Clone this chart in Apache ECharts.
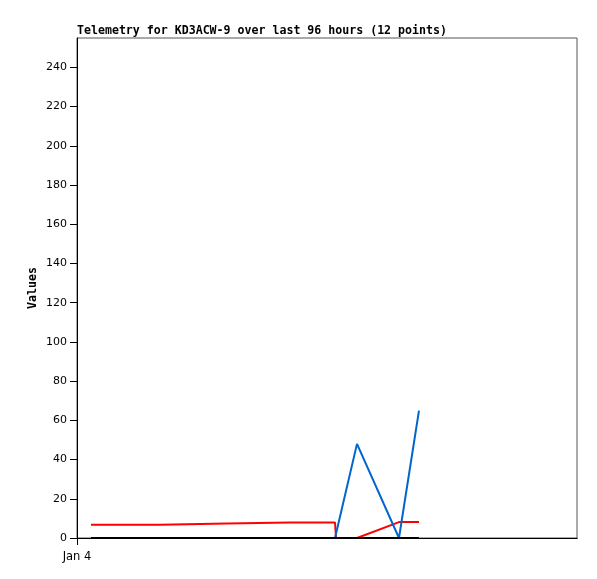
<!DOCTYPE html>
<html>
<head>
<meta charset="utf-8">
<script src="https://cdn.jsdelivr.net/npm/echarts@6/dist/echarts.min.js"></script>
<style>html,body{margin:0;padding:0;background:#fff}#c{width:597px;height:579px}</style>
</head>
<body>
<div id="c"></div>
<script>
const titleText = 'Telemetry for KD3ACW-9 over last 96 hours (12 points)';
const hours = [2.69, 9.41, 15.94, 16.13, 28.8, 28.99, 40.9, 49.54, 49.73, 53.76, 61.82, 65.66];
const redValues = [6.8, 6.8, 6.8, 7.4, 7.4, 7.9, 7.9, 7.9, 0, 0, 8.1, 8.1];
const blueValues = [0, 0, 0, 0, 0, 0, 0, 0, 0, 48, 0, 65];
const blackValues = [0, 0, 0, 0, 0, 0, 0, 0, 0, 0, 0, 0];
const yTicks = [0, 20, 40, 60, 80, 100, 120, 140, 160, 180, 200, 220, 240];
const xTickLabel = 'Jan 4';

const pair = vals => hours.map((h, i) => [h, vals[i]]);
const chart = echarts.init(document.getElementById('c'), null, {renderer: 'canvas'});
chart.setOption({
  animation: false,
  backgroundColor: '#fff',
  title: {
    text: titleText, left: 77, top: 25, padding: 0,
    textStyle: {fontFamily: 'DejaVu Sans Mono', fontWeight: 'bold', fontSize: 11.6, color: '#000'}
  },
  grid: {left: 77, top: 38, right: 20, bottom: 41, show: true, borderColor: '#555', borderWidth: 1, backgroundColor: 'transparent'},
  xAxis: [{
    type: 'value', min: 0, max: 96, position: 'bottom',
    axisLine: {show: true, onZero: false, lineStyle: {color: '#000', width: 1}},
    axisTick: {show: true, length: 7, customValues: [0], lineStyle: {color: '#000'}},
    axisLabel: {show: true, customValues: [0], margin: 13, formatter: () => xTickLabel,
      fontFamily: 'DejaVu Sans', fontSize: 11.5, color: '#000'},
    splitLine: {show: false}
  }, {
    type: 'value', min: 0, max: 96, position: 'top',
    axisLine: {show: true, lineStyle: {color: '#000', width: 1}},
    axisTick: {show: false}, axisLabel: {show: false}, splitLine: {show: false}
  }],
  yAxis: {
    type: 'value', min: 0, max: 255,
    name: 'Values', nameLocation: 'middle', nameGap: 38, nameRotate: 90, nameMoveOverlap: false,
    nameTextStyle: {fontFamily: 'DejaVu Sans Mono', fontWeight: 'bold', fontSize: 11.6, color: '#000'},
    axisLine: {show: true, lineStyle: {color: '#000', width: 1}},
    axisTick: {show: true, length: 7, customValues: yTicks, lineStyle: {color: '#000'}},
    axisLabel: {show: true, customValues: yTicks, margin: 10, fontFamily: 'DejaVu Sans', fontSize: 11, color: '#000'},
    splitLine: {show: false}
  },
  series: [
    {type: 'line', data: pair(redValues), showSymbol: false, symbol: 'none', lineStyle: {color: '#ff0000', width: 2}, itemStyle: {color: '#ff0000'}},
    {type: 'line', data: pair(blueValues), showSymbol: false, symbol: 'none', lineStyle: {color: '#0066cc', width: 2}, itemStyle: {color: '#0066cc'}},
    {type: 'line', data: pair(blackValues), showSymbol: false, symbol: 'none', lineStyle: {color: '#000000', width: 2}, itemStyle: {color: '#000'}}
  ]
});
</script>
</body>
</html>
